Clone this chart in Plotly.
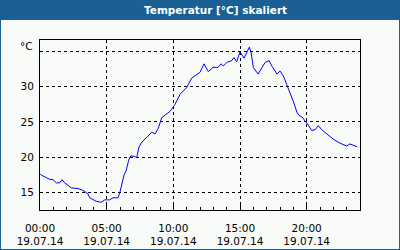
import plotly.graph_objects as go
import pandas as pd

hours = [0.0, 0.1, 0.73, 0.98, 1.22, 1.48, 1.65, 1.85, 2.35, 2.85, 3.23, 3.6, 3.73, 4.22, 4.6, 4.85,
         5.23, 5.48, 5.85, 5.98, 6.3, 6.47, 6.65, 6.8, 7.1, 7.25, 7.43, 7.65, 8.03, 8.38, 8.63, 8.87,
         9.13, 9.38, 9.75, 10.13, 10.5, 11.0, 11.38, 12.0, 12.3, 12.62, 12.98, 13.35, 13.58, 13.75,
         14.0, 14.38, 14.55, 14.75, 15.0, 15.3, 15.7, 15.83, 16.0, 16.35, 16.63, 16.88, 17.18, 17.4,
         17.78, 18.0, 18.25, 18.53, 18.75, 19.0, 19.28, 19.45, 19.65, 20.05, 20.38, 20.63, 20.87,
         21.13, 21.5, 22.0, 22.5, 23.0, 23.25, 23.5, 23.78]
temps = [17.7, 17.5, 16.9, 16.85, 16.4, 16.4, 16.85, 16.4, 15.7, 15.6, 15.33, 14.86, 14.3, 13.8, 13.66, 14.0,
         14.0, 14.3, 14.3, 14.95, 17.5, 18.2, 19.6, 20.2, 20.15, 19.95, 21.5, 22.2, 22.85, 23.57, 23.3, 24.1,
         25.6, 26.0, 26.5, 27.5, 28.9, 29.86, 31.2, 32.0, 33.2, 32.1, 32.7, 32.7, 33.2, 32.9,
         33.4, 33.66, 34.1, 33.5, 34.9, 34.0, 35.57, 34.86, 32.7, 31.76, 32.7, 33.4, 33.66, 32.86,
         31.76, 32.2, 31.5, 30.3, 29.1, 27.9, 26.3, 25.9, 25.7, 24.76, 23.8, 23.9, 24.5,
         23.9, 23.33, 22.57, 22.0, 21.6, 21.9, 21.76, 21.5]
y_ticks = [15, 20, 25, 30, 35]
y_ticktext = ["15", "20", "25", "30", ""]
title_text = "Temperatur [°C] skaliert"
unit_text = "°C"
day = "2014-07-19"

base = pd.Timestamp(day)
times = [base + pd.Timedelta(hours=h) for h in hours]

BLUE = "#1b6095"
BG = "#f8fbf8"
FONT = "DejaVu Sans"

fig = go.Figure()
fig.add_trace(go.Scatter(x=times, y=temps, mode="lines",
                         line=dict(color="#0000ff", width=1), hoverinfo="skip"))

fig.update_layout(
    width=400, height=250,
    margin=dict(l=40, r=40, t=40, b=40, autoexpand=False),
    paper_bgcolor=BG, plot_bgcolor=BG,
    showlegend=False,
    font=dict(family=FONT, size=10, color="black"),
    xaxis=dict(
        type="date", automargin=False,
        range=[base, base + pd.Timedelta(hours=24)],
        tick0=base, dtick=5 * 3600 * 1000,
        tickformat="%H:%M<br>%d.%m.%y",
        tickfont=dict(size=10.5),
        showgrid=True, gridcolor="black", gridwidth=1, griddash="3px,3px",
        showline=True, linecolor="black", linewidth=1, mirror=True,
        ticks="inside", ticklen=5, tickcolor="black",
        minor=dict(dtick=3600 * 1000, ticks="inside", ticklen=3, tickcolor="black", showgrid=False),
        zeroline=False, ticklabelstandoff=8,
    ),
    yaxis=dict(
        automargin=False,
        range=[12.57, 36.57],
        tickvals=y_ticks, ticktext=y_ticktext,
        tickfont=dict(size=10.5),
        showgrid=True, gridcolor="black", gridwidth=1, griddash="3px,3px",
        showline=True, linecolor="black", linewidth=1, mirror=True,
        ticks="", zeroline=False, ticklabelstandoff=3,
    ),
    shapes=[
        dict(type="rect", xref="paper", yref="paper",
             x0=-0.125, x1=1.125, y0=1 + 20 / 170, y1=1 + 40 / 170,
             fillcolor=BLUE, line=dict(width=0), layer="below"),
        dict(type="rect", xref="paper", yref="paper",
             x0=-0.125, x1=1.125, y0=-40 / 170, y1=1 + 40 / 170,
             fillcolor="rgba(0,0,0,0)", line=dict(color=BLUE, width=2)),
    ],
    annotations=[
        dict(text="<b>" + title_text + "</b>", xref="paper", yref="paper",
             x=(215 - 40) / 320, y=1 + 30 / 170, xanchor="center", yanchor="middle",
             showarrow=False, font=dict(family=FONT, size=10.5, color="white")),
        dict(text=unit_text, xref="paper", yref="paper",
             x=-5 / 320, y=1 - 6 / 170, xanchor="right", yanchor="middle",
             showarrow=False, font=dict(family=FONT, size=10.5, color="black")),
    ],
)

fig.write_html("out.html")
